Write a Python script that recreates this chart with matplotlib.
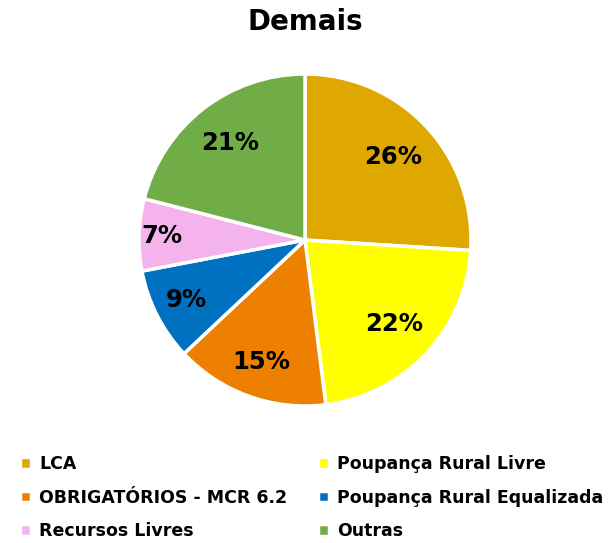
import numpy as np
import matplotlib.pyplot as plt

plt.rcParams['font.family'] = ['DejaVu Sans']

categorias = ["LCA", "Poupança Rural Livre", "OBRIGATÓRIOS - MCR 6.2",
              "Poupança Rural Equalizada", "Recursos Livres", "Outras"]
valores = [26, 22, 15, 9, 7, 21]
cores = ["#DFA800", "#FFFF00", "#ED8000", "#0070C0", "#F5B3EE", "#70AD47"]
# distancia do rotulo ao centro (fracao do raio)
dist_rotulo = [0.73, 0.74, 0.78, 0.80, 0.86, 0.74]

fig = plt.figure(figsize=(6.10, 5.43), dpi=100)
r = 166
ax = fig.add_axes([(305 - r) / 610, (303 - r) / 543, 2 * r / 610, 2 * r / 543])

wedges, _ = ax.pie(valores, colors=cores, startangle=90, counterclock=False,
                   radius=1, wedgeprops=dict(edgecolor="white", linewidth=2.5))
total = sum(valores)
for w, v, d in zip(wedges, valores, dist_rotulo):
    ang = np.deg2rad((w.theta1 + w.theta2) / 2)
    ax.text(d * np.cos(ang), d * np.sin(ang), f"{round(100 * v / total)}%",
            ha="center", va="center", fontsize=17.5, fontweight="bold")
ax.set_xlim(-1, 1)
ax.set_ylim(-1, 1)
ax.set_aspect("equal")
ax.axis("off")

fig.text(0.5, 1 - 22 / 543, "Demais", ha="center", va="center",
         fontsize=20, fontweight="bold")

# legenda preenchida por linha, como no original
ordem = [0, 2, 4, 1, 3, 5]
fig.legend([wedges[i] for i in ordem], [categorias[i] for i in ordem],
           ncol=2, loc="upper left",
           bbox_to_anchor=(13 / 610, 1 - 448 / 543), frameon=False,
           prop=dict(size=12.5, weight="bold"), handlelength=0.65,
           handleheight=0.65, handletextpad=0.45, columnspacing=1.75,
           labelspacing=0.9, borderaxespad=0)

fig.savefig("out.png", dpi=100)
